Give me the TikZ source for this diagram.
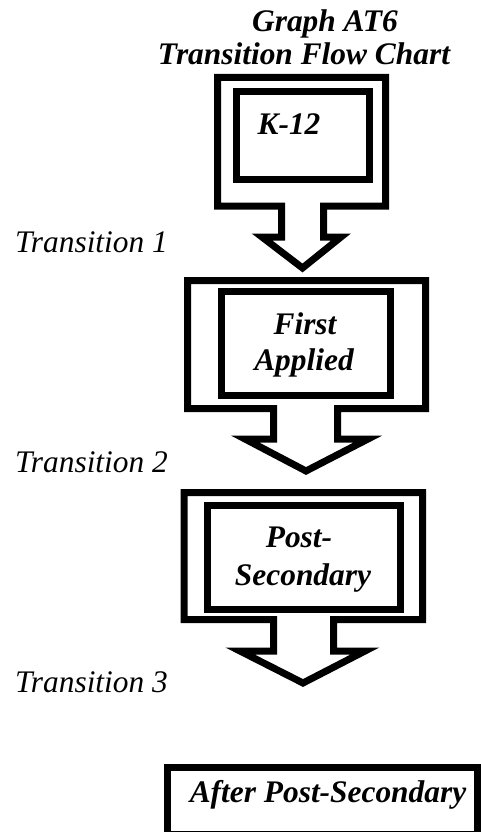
\documentclass[tikz,border=0pt]{standalone}
\usepackage{fontspec}
\setmainfont{Liberation Serif}
\usetikzlibrary{positioning}

\begin{document}
\begin{tikzpicture}[x=1pt, y=-1pt,
  outline/.style={draw=black, line width=7pt},
  boxtext/.style={font=\fontsize{31.4}{37}\selectfont\bfseries\itshape, inner sep=0pt, anchor=base},
  sidetext/.style={font=\fontsize{31.4}{37}\selectfont\itshape, inner sep=0pt, anchor=base west}]
  \useasboundingbox (0,0) rectangle (481,832);
  \clip (0,0) rectangle (481,832);

  % Title
  \node[boxtext] (title) at (325,32) {Graph AT6};
  \node[boxtext] (subtitle) at (304,65) {Transition Flow Chart};

  % Block 1: K-12
  \draw[outline] (281.5,206) -- (217.5,206) -- (217.5,77.5) -- (385.5,77.5) -- (385.5,206)
    -- (323.5,206) -- (323.5,237) -- (341,237) -- (302.5,268) -- (262,237) -- (281.5,237) -- cycle;
  \draw[outline] (236.5,91.5) rectangle (369.5,179.5);
  \node[boxtext] (k12) at (289,135) {K-12};

  % Block 2: First Applied
  \draw[outline] (273.5,408.5) -- (187.5,408.5) -- (187.5,280.5) -- (425.5,280.5) -- (425.5,408.5)
    -- (337.5,408.5) -- (337.5,439) -- (368,439) -- (306,471) -- (245,439) -- (273.5,439) -- cycle;
  \draw[outline] (221.5,291.5) rectangle (390.5,395.5);
  \node[boxtext] (first) at (305,334) {First};
  \node[boxtext] (applied) at (304,370) {Applied};

  % Block 3: Post-Secondary
  \draw[outline] (273.5,619.5) -- (184,619.5) -- (184,492.5) -- (422.5,492.5) -- (422.5,619.5)
    -- (333.5,619.5) -- (333.5,651) -- (365,651) -- (303,683) -- (240,651) -- (273.5,651) -- cycle;
  \draw[outline] (207,505.5) rectangle (400.5,609.5);
  \node[boxtext] (post) at (299,547) {Post-};
  \node[boxtext] (secondary) at (303,585) {Secondary};

  % Transitions
  \node[sidetext] (trans1) at (15,252) {Transition 1};
  \node[sidetext] (trans2) at (15,472) {Transition 2};
  \node[sidetext] (trans3) at (15,692) {Transition 3};

  % After Post-Secondary
  \draw[outline] (167.5,767.5) rectangle (477,834);
  \node[boxtext] (after) at (328,802) {After Post-Secondary};
\end{tikzpicture}
\end{document}
